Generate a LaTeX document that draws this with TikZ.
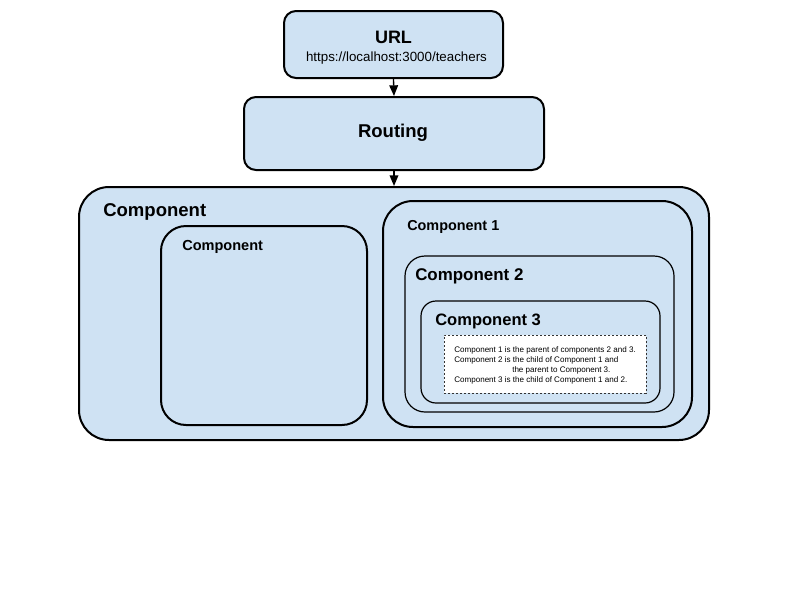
\documentclass[tikz,border=0pt]{standalone}
\usepackage{fontspec}
\setmainfont{Liberation Sans}
\usetikzlibrary{arrows.meta}
\definecolor{boxblue}{HTML}{CFE2F3}
\begin{document}
\begin{tikzpicture}[x=0.75pt,y=-0.75pt,
  box/.style={draw=black, fill=boxblue, line width=1.5pt, inner sep=0pt},
  thinbox/.style={draw=black, fill=boxblue, line width=0.9pt, inner sep=0pt},
  lbl/.style={inner sep=0pt, anchor=base west, font=\bfseries},
  arr/.style={line width=1pt, -{Triangle[length=8pt,width=6.5pt]}}]
\useasboundingbox (0,0) rectangle (800,600);
\fill[white] (0,0) rectangle (800,600);
% boxes
\node[box, rounded corners=9pt, minimum width=164.25pt, minimum height=50.25pt] (url) at (393.5,44.5) {};
\node[box, rounded corners=9pt, minimum width=225pt, minimum height=54.75pt] (routing) at (394,133.5) {};
\node[box, rounded corners=22.5pt, minimum width=472.5pt, minimum height=189.75pt] (outer) at (394,313.5) {};
\node[box, rounded corners=18.75pt, minimum width=154.5pt, minimum height=149.25pt] (left) at (264,325.5) {};
\node[box, rounded corners=22.5pt, minimum width=231.75pt, minimum height=169.5pt] (c1) at (537.5,314) {};
\node[thinbox, rounded corners=15pt, minimum width=201.75pt, minimum height=117pt] (c2) at (539.5,334) {};
\node[thinbox, rounded corners=11.25pt, minimum width=179.25pt, minimum height=76.5pt] (c3) at (540.5,352) {};
\node[draw=black!80, fill=white, line width=0.6pt, dash pattern=on 1.5pt off 1.5pt, inner sep=0pt, minimum width=151.5pt, minimum height=43.5pt] (note) at (545,364) {};
% labels
\node[inner sep=0pt, anchor=base, font=\fontsize{13.5pt}{16pt}\bfseries] (urlt) at (393.5,43) {URL};
\node[inner sep=0pt, anchor=base, font=\fontsize{10pt}{12pt}\selectfont] (urlsub) at (396.5,61) {https://localhost:3000/teachers};
\node[inner sep=0pt, anchor=base, font=\fontsize{13.9pt}{16pt}\bfseries] (routingt) at (393,137.5) {Routing};
\node[lbl, font=\fontsize{13.9pt}{16pt}\bfseries] (outert) at (103,216) {Component};
\node[lbl, font=\fontsize{10.9pt}{13pt}\bfseries] (leftt) at (182,250.5) {Component};
\node[lbl, font=\fontsize{10.8pt}{13pt}\bfseries] (c1t) at (407,230) {Component 1};
\node[lbl, font=\fontsize{12.7pt}{15pt}\bfseries] (c2t) at (415,280) {Component 2};
\node[lbl, font=\fontsize{12.4pt}{15pt}\bfseries] (c3t) at (435,325) {Component 3};
\node[inner sep=0pt, anchor=north west, align=left, font=\fontsize{6.05pt}{7.7pt}\selectfont] (notet) at (454,346)
 {Component 1 is the parent of components 2 and 3.\\
  Component 2 is the child of Component 1 and\\
  \hspace*{43.5pt}the parent to Component 3.\\
  Component 3 is the child of Component 1 and 2.};
% connectors
\draw[arr] (url.south) -- (routing.north);
\draw[arr] (routing.south) -- (outer.north);
\end{tikzpicture}
\end{document}
